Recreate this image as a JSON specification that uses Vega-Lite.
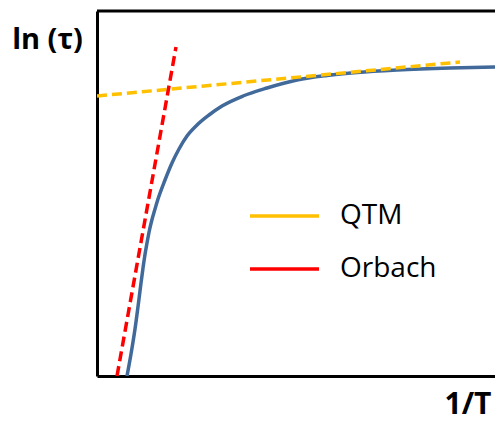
{
  "$schema": "https://vega.github.io/schema/vega-lite/v6.json",
  "width": 398,
  "height": 365,
  "autosize": "none",
  "padding": {"left": 97, "top": 11, "right": 0, "bottom": 47},
  "background": "white",
  "config": {
    "view": {"stroke": null},
    "font": "Open Sans",
    "axis": {
      "ticks": false,
      "labels": false,
      "grid": false,
      "domainColor": "black",
      "domainWidth": 3,
      "titleColor": "black",
      "titleFont": "Open Sans",
      "titleFontWeight": "bold",
      "titleFontSize": 29
    }
  },
  "datasets": {
    "relaxation": [
      {"inv_t": 30, "ln_tau": 0},
      {"inv_t": 34, "ln_tau": 22},
      {"inv_t": 38, "ln_tau": 47},
      {"inv_t": 42, "ln_tau": 77},
      {"inv_t": 44, "ln_tau": 93},
      {"inv_t": 46, "ln_tau": 108},
      {"inv_t": 48, "ln_tau": 121.5},
      {"inv_t": 50, "ln_tau": 133},
      {"inv_t": 52.5, "ln_tau": 146},
      {"inv_t": 55, "ln_tau": 156.5},
      {"inv_t": 58, "ln_tau": 167},
      {"inv_t": 61, "ln_tau": 177},
      {"inv_t": 68, "ln_tau": 196},
      {"inv_t": 75, "ln_tau": 213},
      {"inv_t": 82, "ln_tau": 227},
      {"inv_t": 90, "ln_tau": 240},
      {"inv_t": 100, "ln_tau": 251},
      {"inv_t": 112, "ln_tau": 261},
      {"inv_t": 125, "ln_tau": 270},
      {"inv_t": 146, "ln_tau": 280},
      {"inv_t": 170, "ln_tau": 288},
      {"inv_t": 200, "ln_tau": 296},
      {"inv_t": 230, "ln_tau": 300.5},
      {"inv_t": 260, "ln_tau": 303.5},
      {"inv_t": 300, "ln_tau": 306},
      {"inv_t": 353, "ln_tau": 308},
      {"inv_t": 398, "ln_tau": 309}
    ],
    "fits": [
      {"model": "QTM", "inv_t": 0, "ln_tau": 280},
      {"model": "QTM", "inv_t": 363, "ln_tau": 314},
      {"model": "Orbach", "inv_t": 20, "ln_tau": 0},
      {"model": "Orbach", "inv_t": 79, "ln_tau": 329}
    ]
  },
  "layer": [
    {
      "data": {"values": [{}]},
      "mark": {"type": "rule", "color": "black", "strokeWidth": 3},
      "encoding": {
        "y": {"datum": 365, "type": "quantitative", "scale": {"domain": [0, 365], "nice": false, "zero": false}}
      }
    },
    {
      "data": {"name": "relaxation"},
      "mark": {"type": "line", "color": "#41699A", "strokeWidth": 3.5, "interpolate": "monotone", "clip": true},
      "encoding": {
        "x": {
          "field": "inv_t",
          "type": "quantitative",
          "scale": {"domain": [0, 398], "nice": false, "zero": false},
          "axis": {"title": "1/T", "titleAlign": "right", "titleBaseline": "alphabetic", "titleX": 394, "titleY": 37, "titleFontSize": 30}
        },
        "y": {
          "field": "ln_tau",
          "type": "quantitative",
          "scale": {"domain": [0, 365], "nice": false, "zero": false},
          "axis": {"title": "ln (τ)", "titleAngle": 0, "titleAlign": "center", "titleBaseline": "alphabetic", "titleX": -50, "titleY": 37}
        }
      }
    },
    {
      "data": {"name": "fits"},
      "mark": {"type": "line", "strokeWidth": 3.5, "strokeDash": [10, 5], "clip": true},
      "encoding": {
        "x": {"field": "inv_t", "type": "quantitative"},
        "y": {"field": "ln_tau", "type": "quantitative"},
        "detail": {"field": "model"},
        "color": {
          "field": "model",
          "type": "nominal",
          "scale": {"domain": ["QTM", "Orbach"], "range": ["#FFC000", "#FF0000"]},
          "legend": {
            "title": null,
            "orient": "none",
            "legendX": 151,
            "legendY": 190,
            "padding": 0,
            "symbolType": "stroke",
            "symbolSize": 4761,
            "symbolStrokeWidth": 3.5,
            "symbolDash": [1, 0],
            "clipHeight": 30,
            "rowPadding": 23,
            "labelFont": "Open Sans",
            "labelFontSize": 28,
            "labelColor": "black",
            "labelOffset": 19,
            "labelLimit": 300
          }
        }
      }
    }
  ]
}
